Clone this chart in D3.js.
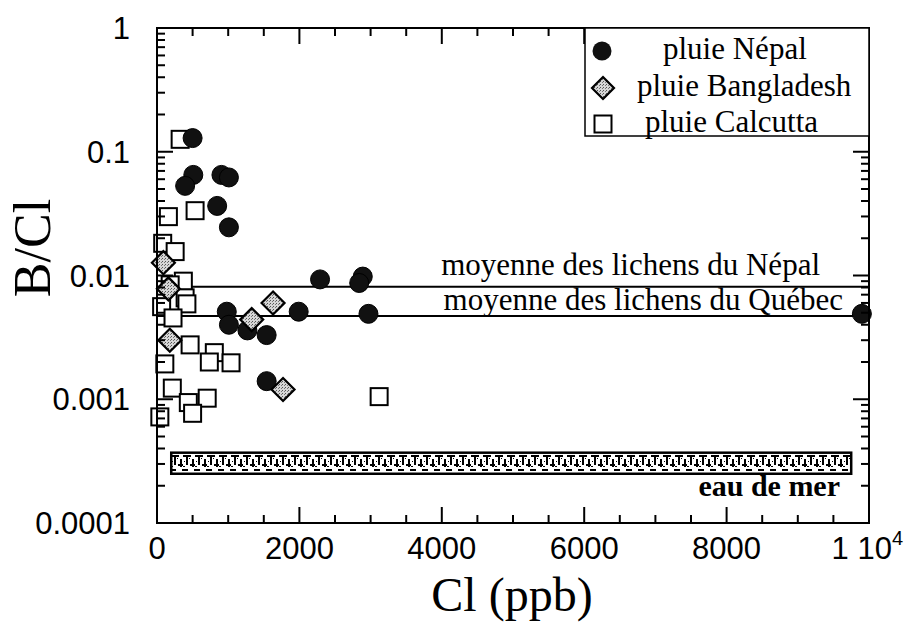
<!DOCTYPE html>
<html>
<head>
<meta charset="utf-8">
<script src="https://cdn.jsdelivr.net/npm/d3@7"></script>
<style>
  html, body { margin: 0; padding: 0; background: #fff; }
  svg { display: block; }
</style>
</head>
<body>
<svg id="chart" width="908" height="622"></svg>
<script>
// Rain samples: chloride (ppb) and B/Cl ratio
const nepalCl  = [500, 510, 395, 905, 1010, 845, 1010, 980, 1010, 1270, 1540, 1540, 1990, 2290, 2890, 2840, 2970, 9900];
const nepalBCl = [0.129, 0.065, 0.053, 0.065, 0.062, 0.0365, 0.0245, 0.0051, 0.0040, 0.0036, 0.0033, 0.0014, 0.0051, 0.0093, 0.0098, 0.0087, 0.0049, 0.0049];

const bangladeshCl  = [90, 160, 180, 1630, 1330, 1770];
const bangladeshBCl = [0.0127, 0.0078, 0.0030, 0.0060, 0.0044, 0.0012];

const calcuttaCl  = [325, 535, 160, 80, 255, 370, 185, 395, 65, 420, 225, 465, 805, 1040, 735, 110, 215, 440, 705, 500, 40, 3120];
const calcuttaBCl = [0.126, 0.0334, 0.0299, 0.0182, 0.0156, 0.0090, 0.0084, 0.0066, 0.0056, 0.0059, 0.00454, 0.00275, 0.00238, 0.00197, 0.0020, 0.00193, 0.00123, 0.00094, 0.00102, 0.00077, 0.00072, 0.00105];

// Reference levels
const lichenNames  = ["moyenne des lichens du Népal", "moyenne des lichens du Québec"];
const lichenBCl    = [0.0081, 0.0047];
const seawaterBCl  = [0.00025, 0.00037];
const seawaterCl   = [200, 9750];

// Axis ticks
const xMajorTicks = [0, 2000, 4000, 6000, 8000, 10000];
const xTickLabels = ["0", "2000", "4000", "6000", "8000", "1 10"];
const yMajorTicks = [1, 0.1, 0.01, 0.001, 0.0001];
const yTickLabels = ["1", "0.1", "0.01", "0.001", "0.0001"];

const legendNames = ["pluie Népal", "pluie Bangladesh", "pluie Calcutta"];

const svg = d3.select("#chart");
const mLeft = 157, mRight = 869, mTop = 28, mBottom = 523;

const x = d3.scaleLinear().domain([0, 10000]).range([mLeft, mRight]);
const y = d3.scaleLog().domain([0.0001, 1]).range([mBottom, mTop]);

const sans = "'Liberation Sans', Arial, Helvetica, sans-serif";
const serif = "'Liberation Serif', 'Times New Roman', Times, serif";

// Patterns: stippled grey for diamonds, brick-like texture for sea water band
const defs = svg.append("defs");
const dia = defs.append("pattern").attr("id", "stipple").attr("patternUnits", "userSpaceOnUse")
  .attr("width", 3).attr("height", 3);
dia.append("rect").attr("width", 3).attr("height", 3).attr("fill", "#d6d6d6");
dia.append("rect").attr("x", 0).attr("y", 0).attr("width", 1).attr("height", 1).attr("fill", "#555");
dia.append("rect").attr("x", 2).attr("y", 1).attr("width", 1).attr("height", 1).attr("fill", "#777");

const sea = defs.append("pattern").attr("id", "seaPat").attr("patternUnits", "userSpaceOnUse")
  .attr("width", 12).attr("height", 20).attr("x", 171).attr("y", 453);
sea.append("rect").attr("width", 12).attr("height", 20).attr("fill", "#fff");
const seaBits = [
  [0, 2, 8, 2], [3, 2, 2, 10], [7, 11, 5, 2], [9, 6, 2, 8],
  [0, 16, 5, 2], [6, 5, 1, 1], [1, 8, 1, 1], [0, 13, 2, 1], [11, 16, 1, 2]
];
seaBits.forEach(([bx, by, bw, bh]) =>
  sea.append("rect").attr("x", bx).attr("y", by).attr("width", bw).attr("height", bh).attr("fill", "#000"));

// Sea water band
svg.append("rect")
  .attr("x", x(seawaterCl[0])).attr("width", x(seawaterCl[1]) - x(seawaterCl[0]))
  .attr("y", y(seawaterBCl[1])).attr("height", y(seawaterBCl[0]) - y(seawaterBCl[1]))
  .attr("fill", "url(#seaPat)").attr("stroke", "#000").attr("stroke-width", 2.5);
svg.append("text")
  .attr("x", 840).attr("y", 496).attr("text-anchor", "end")
  .attr("font-family", serif).attr("font-weight", "bold").attr("font-size", 30)
  .text("eau de mer");

// Lichen reference lines
svg.selectAll("line.lichen").data(lichenBCl).join("line")
  .attr("class", "lichen")
  .attr("x1", x(0)).attr("x2", x(10000))
  .attr("y1", d => y(d)).attr("y2", d => y(d))
  .attr("stroke", "#000").attr("stroke-width", 2);
const lichenLabelX = [820, 843];
svg.selectAll("text.lichen").data(lichenBCl).join("text")
  .attr("class", "lichen")
  .attr("x", (d, i) => lichenLabelX[i])
  .attr("y", (d, i) => y(d) - (i === 0 ? 12 : 6))
  .attr("text-anchor", "end")
  .attr("font-family", serif).attr("font-size", 31)
  .text((d, i) => lichenNames[i]);

// Markers
const sq = 17;
svg.append("g").selectAll("rect").data(d3.range(calcuttaCl.length)).join("rect")
  .attr("x", i => x(calcuttaCl[i]) - sq / 2).attr("y", i => y(calcuttaBCl[i]) - sq / 2)
  .attr("width", sq).attr("height", sq)
  .attr("fill", "#fff").attr("stroke", "#000").attr("stroke-width", 2);

svg.append("g").selectAll("circle").data(d3.range(nepalCl.length)).join("circle")
  .attr("cx", i => x(nepalCl[i])).attr("cy", i => y(nepalBCl[i]))
  .attr("r", 9.5).attr("fill", "#111").attr("stroke", "#000").attr("stroke-width", 1);

const diamond = (cx, cy, h) => `M${cx},${cy - h}L${cx + h},${cy}L${cx},${cy + h}L${cx - h},${cy}Z`;
svg.append("g").selectAll("path").data(d3.range(bangladeshCl.length)).join("path")
  .attr("d", i => diamond(x(bangladeshCl[i]), y(bangladeshBCl[i]), 11.5))
  .attr("fill", "url(#stipple)").attr("stroke", "#000").attr("stroke-width", 2.2);

// Frame with inward-pointing ticks on all four sides
const frame = svg.append("g").attr("stroke", "#000").attr("stroke-width", 2);
const xMinor = d3.range(0, 10001, 500).filter(v => v % 2000 !== 0);
const yMinor = [];
[0.0001, 0.001, 0.01, 0.1].forEach(dec => { for (let k = 2; k <= 9; k++) yMinor.push(dec * k); });

const xTicks = xMajorTicks.map(v => ({ v, len: 16 })).concat(xMinor.map(v => ({ v, len: 8 })));
const yTicks = yMajorTicks.map(v => ({ v, len: 16 })).concat(yMinor.map(v => ({ v, len: 8 })));

frame.selectAll("line.xb").data(xTicks).join("line").attr("class", "xb")
  .attr("x1", d => x(d.v)).attr("x2", d => x(d.v)).attr("y1", mBottom).attr("y2", d => mBottom - d.len);
frame.selectAll("line.xt").data(xTicks).join("line").attr("class", "xt")
  .attr("x1", d => x(d.v)).attr("x2", d => x(d.v)).attr("y1", mTop).attr("y2", d => mTop + d.len);
frame.selectAll("line.yl").data(yTicks).join("line").attr("class", "yl")
  .attr("y1", d => y(d.v)).attr("y2", d => y(d.v)).attr("x1", mLeft).attr("x2", d => mLeft + d.len);
frame.selectAll("line.yr").data(yTicks).join("line").attr("class", "yr")
  .attr("y1", d => y(d.v)).attr("y2", d => y(d.v)).attr("x1", mRight).attr("x2", d => mRight - d.len);
frame.append("rect").attr("x", mLeft).attr("y", mTop).attr("width", mRight - mLeft).attr("height", mBottom - mTop)
  .attr("fill", "none");

// Tick labels
svg.append("g").selectAll("text").data(yMajorTicks).join("text")
  .attr("x", 130).attr("y", d => y(d)).attr("dy", "0.36em")
  .attr("text-anchor", "end").attr("font-family", sans).attr("font-size", 31)
  .text((d, i) => yTickLabels[i]);

const last = xMajorTicks.length - 1;
const xl = svg.append("g").selectAll("text").data(xMajorTicks).join("text")
  .attr("x", (d, i) => i === last ? 903 : x(d)).attr("y", 559)
  .attr("text-anchor", (d, i) => i === last ? "end" : "middle")
  .attr("font-family", sans).attr("font-size", 31)
  .text((d, i) => xTickLabels[i]);
xl.filter((d, i) => i === last)
  .append("tspan").attr("font-size", 20).attr("dy", -14).text("4");

// Axis titles
svg.append("text").attr("x", 512).attr("y", 611).attr("text-anchor", "middle")
  .attr("font-family", serif).attr("font-size", 48).text("Cl (ppb)");
svg.append("text").attr("transform", "translate(50,248) rotate(-90)").attr("text-anchor", "middle")
  .attr("font-family", serif).attr("font-size", 52).text("B/Cl");

// Legend
const lg = svg.append("g");
lg.append("rect").attr("x", 585).attr("y", mTop).attr("width", mRight - 585).attr("height", 108)
  .attr("fill", "#fff").attr("stroke", "#000").attr("stroke-width", 1.5);
const legY = [51, 88, 124];
const legTextX = [663, 637, 645];
lg.append("circle").attr("cx", 602).attr("cy", legY[0]).attr("r", 9.5).attr("fill", "#111");
lg.append("path").attr("d", diamond(603, legY[1], 11)).attr("fill", "url(#stipple)").attr("stroke", "#000").attr("stroke-width", 2.2);
lg.append("rect").attr("x", 603 - 8.5).attr("y", legY[2] - 8.5).attr("width", 17).attr("height", 17)
  .attr("fill", "#fff").attr("stroke", "#000").attr("stroke-width", 2);
lg.selectAll("text").data(legendNames).join("text")
  .attr("x", (d, i) => legTextX[i]).attr("y", (d, i) => legY[i] + 8)
  .attr("font-family", serif).attr("font-size", 31)
  .text(d => d);
</script>
</body>
</html>
